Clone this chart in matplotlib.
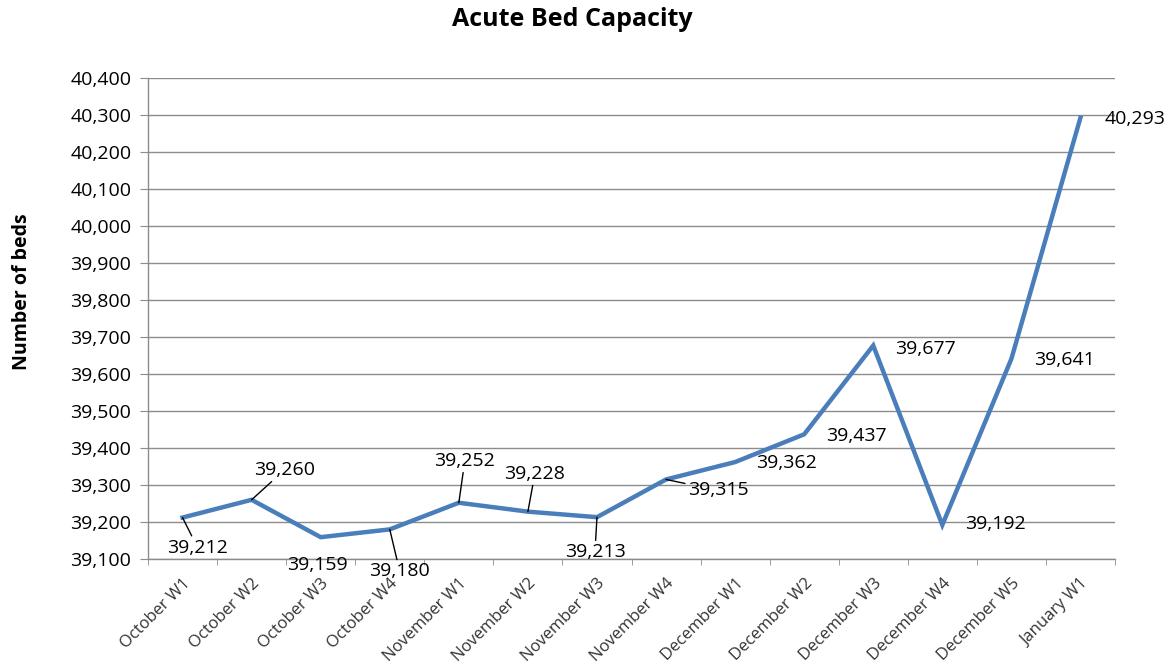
import matplotlib.pyplot as plt
import numpy as np
from matplotlib.ticker import FuncFormatter, FixedLocator

# data
weeks = ["October W1", "October W2", "October W3", "October W4",
         "November W1", "November W2", "November W3", "November W4",
         "December W1", "December W2", "December W3", "December W4",
         "December W5", "January W1"]
beds = [39212, 39260, 39159, 39180, 39252, 39228, 39213, 39315,
        39362, 39437, 39677, 39192, 39641, 40293]

# label placement (pixel offsets from point) and whether a leader line is drawn
label_offsets = [(15, -30), (33, 30), (-3, -28), (10, -42), (6, 42), (7, 38),
                 (-2, -35), (52, -11), (51, -1), (52, -2), (52, -3), (53, 1),
                 (53, -1), (55, -1)]
leaders = [True, True, False, True, True, True, True, True,
           False, False, False, False, False, False]

plt.rcParams["font.family"] = ["Open Sans", "DejaVu Sans"]

fig = plt.figure(figsize=(11.67, 6.64), dpi=100)
ax = fig.add_axes([148 / 1167, 1 - 559 / 664, (1115 - 148) / 1167, (559 - 78) / 664])

x = np.arange(len(weeks))
ax.plot(x, beds, color="#4A7EBB", lw=3.2, solid_joinstyle="miter", zorder=3)

ax.set_xlim(-0.5, len(weeks) - 0.5)
ax.set_ylim(39100, 40400)
ax.set_yticks(np.arange(39100, 40401, 100))
ax.yaxis.set_major_formatter(FuncFormatter(lambda v, p: f"{int(v):,}"))
ax.grid(axis="y", color="#8C8C8C", lw=1)
ax.set_axisbelow(True)

ax.set_xticks(x)
ax.set_xticklabels(weeks, rotation=45, ha="right", va="top",
                   rotation_mode="anchor", fontsize=12, color="#333333")
ax.xaxis.set_minor_locator(FixedLocator(np.arange(-0.5, len(weeks), 1)))
ax.tick_params(axis="x", which="major", length=0, pad=12)
ax.tick_params(axis="x", which="minor", length=4, color="#8C8C8C")
ax.tick_params(axis="y", length=6, color="#8C8C8C", labelsize=14, pad=6)

for s in ["top", "right"]:
    ax.spines[s].set_visible(False)
for s in ["left", "bottom"]:
    ax.spines[s].set_color("#8C8C8C")
    ax.spines[s].set_linewidth(1)

for xi, v, off, lead in zip(x, beds, label_offsets, leaders):
    arrow = dict(arrowstyle="-", color="black", lw=1, shrinkA=0, shrinkB=0) if lead else None
    ax.annotate(f"{v:,}", xy=(xi, v), xytext=off, textcoords="offset pixels",
                ha="center", va="center", fontsize=14, color="black",
                arrowprops=arrow, annotation_clip=False, zorder=4)

fig.text(572 / 1167, 1 - 20 / 664, "Acute Bed Capacity", ha="center", va="center",
         fontsize=18, fontweight="bold")
fig.text(22 / 1167, 1 - 292 / 664, "Number of beds", ha="center", va="center",
         rotation=90, fontsize=14, fontweight="bold")

fig.savefig("out.png", dpi=100)
